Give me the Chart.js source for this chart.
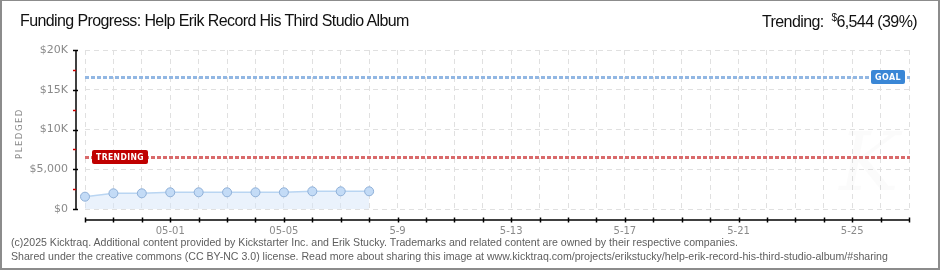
<!DOCTYPE html>
<html>
<head>
<meta charset="utf-8">
<script src="https://cdn.jsdelivr.net/npm/chart.js@4/dist/chart.umd.min.js"></script>
<style>
  html,body{margin:0;padding:0;background:#fff;}
  #wrap{position:relative;width:940px;height:270px;overflow:hidden;background:#fff;}
  #c{position:absolute;left:0;top:0;}
  #frame{position:absolute;left:0;top:0;width:940px;height:270px;box-sizing:border-box;border:2px solid #8c8c8c;border-top-width:1px;pointer-events:none;}
  .hdr{position:absolute;top:12px;font-family:"Liberation Sans","Roboto",sans-serif;font-size:16px;letter-spacing:-0.6px;color:#111;white-space:nowrap;}
  #title{left:20px;}
  #trend{right:23px;}
  #trend sup{font-size:10px;vertical-align:6px;margin-left:4px;}
  .foot{position:absolute;left:11px;font-family:"Liberation Sans","DejaVu Sans",sans-serif;font-size:10.6px;color:#5e5e5e;white-space:nowrap;}
</style>
</head>
<body>
<div id="wrap">
  <canvas id="c" width="940" height="270"></canvas>
  <div id="title" class="hdr">Funding Progress: Help Erik Record His Third Studio Album</div>
  <div id="trend" class="hdr">Trending: <sup>$</sup>6,544 (39%)</div>
  <div class="foot" style="top:236px">(c)2025 Kicktraq. Additional content provided by Kickstarter Inc. and Erik Stucky. Trademarks and related content are owned by their respective companies.</div>
  <div class="foot" style="top:250px">Shared under the creative commons (CC BY-NC 3.0) license. Read more about sharing this image at www.kicktraq.com/projects/erikstucky/help-erik-record-his-third-studio-album/#sharing</div>
  <div id="frame"></div>
</div>
<script>
const categories = ['04-28','04-29','04-30','05-01','05-02','05-03','05-04','05-05','05-06','05-07',
  '05-08','05-09','05-10','05-11','05-12','05-13','05-14','05-15','05-16','05-17',
  '05-18','05-19','05-20','05-21','05-22','05-23','05-24','05-25','05-26','05-27'];
const xTickLabels = ['','','','05-01','','','','05-05','','',
  '','5-9','','','','5-13','','','','5-17',
  '','','','5-21','','','','5-25','',''];
const pledged = [1550,1975,1975,2100,2100,2100,2100,2100,2225,2225,2225];
const goalValue = 16600;
const trendingValue = 6544;
const yTicks = [0,5000,10000,15000,20000];
const yTickLabels = ['$0','$5,000','$10K','$15K','$20K'];

const deco = {
  id:'deco',
  beforeDatasetsDraw(chart){
    const ctx = chart.ctx, a = chart.chartArea, y = chart.scales.y;
    ctx.save();
    // faint watermark
    ctx.fillStyle='rgba(0,0,0,0.014)';
    ctx.font='italic 80px "DejaVu Serif", serif';
    ctx.textAlign='center'; ctx.textBaseline='middle';
    ctx.fillText('K', a.right-40, a.bottom-40);
    ctx.lineWidth = 3;
    ctx.setLineDash([4,2]);
    [[goalValue,'#92b7e3'],[trendingValue,'#d96a6b']].forEach(([v,col])=>{
      const py = Math.round(y.getPixelForValue(v))+0.5;
      ctx.strokeStyle = col;
      ctx.beginPath(); ctx.moveTo(a.left, py); ctx.lineTo(a.right+1, py); ctx.stroke();
    });
    ctx.restore();
  },
  afterDraw(chart){
    const ctx = chart.ctx, a = chart.chartArea, y = chart.scales.y, x = chart.scales.x;
    ctx.save();
    // y axis line
    const ax = a.left - 9;
    ctx.strokeStyle = '#000'; ctx.lineWidth = 1.5;
    ctx.beginPath(); ctx.moveTo(ax, a.top); ctx.lineTo(ax, a.bottom+1); ctx.stroke();
    yTicks.forEach(v=>{
      const py = Math.round(y.getPixelForValue(v))+0.5;
      ctx.strokeStyle='#000'; ctx.lineWidth=1.5;
      ctx.beginPath(); ctx.moveTo(ax-3, py); ctx.lineTo(ax+2, py); ctx.stroke();
    });
    for (let i=0;i<yTicks.length-1;i++){
      const v = (yTicks[i]+yTicks[i+1])/2;
      const py = Math.round(y.getPixelForValue(v))+0.5;
      ctx.strokeStyle='#cc0000'; ctx.lineWidth=1.5;
      ctx.beginPath(); ctx.moveTo(ax-3, py); ctx.lineTo(ax, py); ctx.stroke();
    }
    // x axis line
    const ay = a.bottom + 11;
    ctx.strokeStyle='#000'; ctx.lineWidth=1.5;
    ctx.beginPath(); ctx.moveTo(a.left, ay); ctx.lineTo(a.right, ay); ctx.stroke();
    categories.forEach((c,i)=>{
      const px = Math.round(x.getPixelForValue(i))+0.5;
      ctx.beginPath(); ctx.moveTo(px, ay-2.5); ctx.lineTo(px, ay+2.5); ctx.stroke();
    });
    // y axis title
    ctx.save();
    ctx.translate(20, (a.top+a.bottom)/2+4);
    ctx.rotate(-Math.PI/2);
    ctx.fillStyle='#8a8a8a';
    ctx.font='8.5px "DejaVu Sans", sans-serif';
    ctx.letterSpacing='1.5px';
    ctx.textAlign='center'; ctx.textBaseline='middle';
    ctx.fillText('PLEDGED',0,0);
    ctx.restore();
    // labels
    function tag(text, x0, w, v, bg){
      const py = y.getPixelForValue(v);
      const h = 14;
      const top = Math.round(py - h/2);
      ctx.fillStyle = bg;
      ctx.beginPath();
      ctx.roundRect(x0, top, w, h, 2);
      ctx.fill();
      ctx.fillStyle='#fff';
      ctx.font='bold 9.5px "DejaVu Sans", sans-serif';
      ctx.letterSpacing='0.5px';
      ctx.textAlign='center'; ctx.textBaseline='middle';
      ctx.fillText(text, x0+w/2, top+h/2+0.5, w-8);
    }
    tag('TRENDING', a.left+7, 56, trendingValue, '#c00000');
    tag('GOAL', a.right-38, 34, goalValue, '#3a87d6');
    ctx.restore();
  }
};

new Chart(document.getElementById('c'), {
  type:'line',
  data:{
    labels: categories,
    datasets:[{
      data: pledged,
      borderColor:'#b9d5f2',
      borderWidth:1.5,
      backgroundColor:'rgba(214,230,249,0.5)',
      fill:'origin',
      tension:0,
      pointRadius:4.5,
      pointBackgroundColor:'#c3dbf6',
      pointBorderColor:'#8fb0d8',
      pointBorderWidth:1
    }]
  },
  options:{
    responsive:false,
    animation:false,
    events:[],
    layout:{padding:{left:0,right:31,top:50,bottom:0}},
    plugins:{legend:{display:false},tooltip:{enabled:false},title:{display:false}},
    scales:{
      x:{
        offset:false,
        border:{display:false,dash:[5,4]},
        grid:{color:'#e0e0e0',lineWidth:1,drawTicks:false},
        ticks:{
          autoSkip:false,maxRotation:0,padding:16,color:'#8a8a8a',
          font:{family:'"DejaVu Sans", sans-serif',size:10},
          callback:(v,i)=>xTickLabels[i]
        },
        afterFit(s){s.height=61;s.paddingLeft=0;s.paddingRight=0;}
      },
      y:{
        min:0,max:20000,
        border:{display:false,dash:[5,4]},
        grid:{color:'#e0e0e0',lineWidth:1,drawTicks:false},
        afterBuildTicks(s){s.ticks = yTicks.map(v=>({value:v}));},
        ticks:{
          padding:17,color:'#8a8a8a',
          font:{family:'"DejaVu Sans", sans-serif',size:11},
          callback:(v)=>yTickLabels[yTicks.indexOf(v)]
        },
        afterFit(s){s.width=85;s.paddingTop=0;s.paddingBottom=0;}
      }
    }
  },
  plugins:[deco]
});
</script>
</body>
</html>
